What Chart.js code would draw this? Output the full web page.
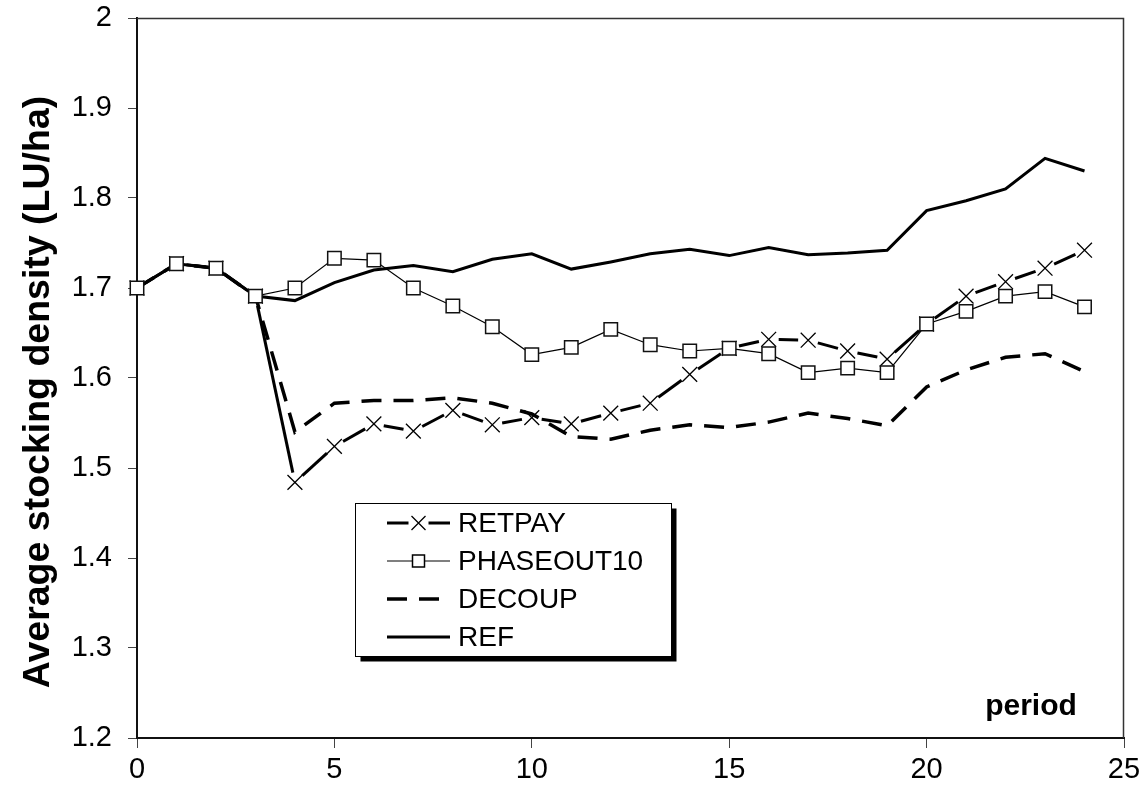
<!DOCTYPE html>
<html>
<head>
<meta charset="utf-8">
<title>Average stocking density</title>
<script src="https://cdn.jsdelivr.net/npm/chart.js@4/dist/chart.umd.min.js"></script>
<style>
  html, body { margin: 0; padding: 0; background: #fff; }
  #myChart { display: block; }
</style>
</head>
<body>
<canvas id="myChart" width="1146" height="796"></canvas>
<script>
const periods = [0, 1, 2, 3, 4, 5, 6, 7, 8, 9, 10, 11, 12, 13, 14, 15, 16, 17, 18, 19, 20, 21, 22, 23, 24];

const retpay = [1.700, 1.727, 1.722, 1.691, 1.484, 1.524, 1.549, 1.541, 1.564, 1.548, 1.556, 1.549, 1.561,
  1.572, 1.604, 1.633, 1.643, 1.642, 1.630, 1.621, 1.660, 1.691, 1.707, 1.722, 1.742];
const phaseout10 = [1.700, 1.727, 1.722, 1.691, 1.700, 1.733, 1.731, 1.700, 1.680, 1.657, 1.626, 1.634, 1.654,
  1.637, 1.630, 1.633, 1.627, 1.606, 1.611, 1.606, 1.660, 1.674, 1.691, 1.696, 1.679];
const decoup = [1.700, 1.727, 1.722, 1.691, 1.540, 1.572, 1.575, 1.575, 1.578, 1.572, 1.560, 1.535, 1.532,
  1.542, 1.548, 1.545, 1.551, 1.561, 1.555, 1.547, 1.590, 1.609, 1.623, 1.627, 1.607];
const ref = [1.700, 1.727, 1.722, 1.691, 1.686, 1.706, 1.720, 1.725, 1.718, 1.732, 1.738, 1.721, 1.729,
  1.738, 1.743, 1.736, 1.745, 1.737, 1.739, 1.742, 1.786, 1.797, 1.810, 1.844, 1.830];

const seriesNames = ["RETPAY", "PHASEOUT10", "DECOUP", "REF"];
const yTitle = "Average stocking density (LU/ha)";
const xTitle = "period";

const FONT = "'Liberation Sans', Arial, sans-serif";
const MARKER_GAP = 10;

// line that stops short of each marker: one dash per segment, centred between the points
function gappedDash(ctx) {
  const len = Math.hypot(ctx.p1.x - ctx.p0.x, ctx.p1.y - ctx.p0.y);
  return [Math.max(len - 2 * MARKER_GAP, 0), 2 * MARKER_GAP];
}
function gappedOffset(ctx) {
  const len = Math.hypot(ctx.p1.x - ctx.p0.x, ctx.p1.y - ctx.p0.y);
  return len - MARKER_GAP;
}

function toPoints(values) {
  return values.map((v, i) => ({ x: periods[i], y: v }));
}

// keep the plot box where the layout padding puts it
function fixScale(size) {
  return (scale) => {
    if (scale.isHorizontal()) scale.height = size;
    else scale.width = size;
    scale.paddingTop = 0;
    scale.paddingBottom = 0;
    scale.paddingLeft = 0;
    scale.paddingRight = 0;
  };
}

// lowest order is painted last, so the white squares sit on top
const datasets = [
  {
    label: seriesNames[0],
    data: toPoints(retpay),
    order: 1,
    clip: false,
    borderColor: "#000",
    borderWidth: 3,
    pointStyle: "crossRot",
    pointRadius: 10.5,
    pointBorderWidth: 1.3,
    pointBorderColor: "#000",
    segment: { borderDash: gappedDash, borderDashOffset: gappedOffset },
  },
  {
    label: seriesNames[1],
    data: toPoints(phaseout10),
    order: 0,
    clip: false,
    borderColor: "#000",
    borderWidth: 1.2,
    pointStyle: "rect",
    pointRadius: 9.5,
    pointBorderWidth: 1.5,
    pointBorderColor: "#111",
    pointBackgroundColor: "#fff",
  },
  {
    label: seriesNames[2],
    data: toPoints(decoup),
    order: 2,
    borderColor: "#000",
    borderWidth: 3.5,
    borderDash: [20, 12],
    pointRadius: 0,
  },
  {
    label: seriesNames[3],
    data: toPoints(ref),
    order: 3,
    borderColor: "#000",
    borderWidth: 3,
    pointRadius: 0,
  },
];

// frame on top and right of the plot, axis titles and the boxed legend
const extras = {
  id: "extras",
  afterDatasetsDraw(chart) {
    const { ctx, chartArea: a } = chart;
    ctx.save();
    ctx.strokeStyle = "#333";
    ctx.lineWidth = 1.5;
    ctx.beginPath();
    ctx.moveTo(a.left, a.top + 0.5);
    ctx.lineTo(a.right - 0.5, a.top + 0.5);
    ctx.lineTo(a.right - 0.5, a.bottom);
    ctx.stroke();

    ctx.fillStyle = "#000";
    ctx.font = `bold 30px ${FONT}`;
    ctx.textAlign = "center";
    ctx.textBaseline = "alphabetic";
    ctx.fillText(xTitle, 1031, 715);

    ctx.translate(39, 392);
    ctx.rotate(-Math.PI / 2);
    ctx.font = `bold 37.5px ${FONT}`;
    ctx.textBaseline = "middle";
    ctx.fillText(yTitle, 0, 0);
    ctx.restore();

    drawLegend(ctx);
  },
};

function drawLegend(ctx) {
  const box = { x: 355.5, y: 503.5, w: 316, h: 153 };
  ctx.save();
  ctx.fillStyle = "#000";
  ctx.fillRect(box.x + 5, box.y + 5, box.w, box.h);
  ctx.fillStyle = "#fff";
  ctx.fillRect(box.x, box.y, box.w, box.h);
  ctx.strokeStyle = "#000";
  ctx.lineWidth = 1;
  ctx.strokeRect(box.x, box.y, box.w, box.h);

  const x0 = 387;
  const x1 = 450;
  const xm = (x0 + x1) / 2;
  ctx.font = `28px ${FONT}`;
  ctx.textAlign = "left";
  ctx.textBaseline = "middle";

  datasets.forEach((ds, i) => {
    const y = 523 + i * 38;
    ctx.strokeStyle = "#000";
    ctx.setLineDash([]);
    if (ds.pointStyle === "crossRot") {
      ctx.lineWidth = 3;
      ctx.beginPath();
      ctx.moveTo(x0, y); ctx.lineTo(xm - 10, y);
      ctx.moveTo(xm + 10, y); ctx.lineTo(x1, y);
      ctx.stroke();
      ctx.lineWidth = 1.3;
      ctx.beginPath();
      ctx.moveTo(xm - 7, y - 7); ctx.lineTo(xm + 7, y + 7);
      ctx.moveTo(xm - 7, y + 7); ctx.lineTo(xm + 7, y - 7);
      ctx.stroke();
    } else if (ds.pointStyle === "rect") {
      ctx.lineWidth = 1.2;
      ctx.beginPath();
      ctx.moveTo(x0, y); ctx.lineTo(x1, y);
      ctx.stroke();
      ctx.fillStyle = "#fff";
      ctx.fillRect(xm - 6, y - 6, 12, 12);
      ctx.lineWidth = 1.5;
      ctx.strokeRect(xm - 6, y - 6, 12, 12);
    } else {
      ctx.lineWidth = ds.borderWidth;
      if (ds.borderDash) ctx.setLineDash([20, 12]);
      ctx.beginPath();
      ctx.moveTo(x0, y); ctx.lineTo(x1, y);
      ctx.stroke();
    }
    ctx.setLineDash([]);
    ctx.fillStyle = "#000";
    ctx.fillText(ds.label, 458, y + 1);
  });
  ctx.restore();
}

const canvas = document.getElementById("myChart");
const myChart = new Chart(canvas, {
  type: "line",
  data: { datasets },
  plugins: [extras],
  options: {
    responsive: false,
    animation: false,
    layout: { padding: { top: 18, right: 22, left: 0, bottom: 0 } },
    plugins: { legend: { display: false }, tooltip: { enabled: false } },
    scales: {
      x: {
        type: "linear",
        min: 0,
        max: 25,
        afterFit: fixScale(58),
        ticks: { stepSize: 5, color: "#000", padding: 5, font: { family: FONT, size: 29 } },
        grid: { drawOnChartArea: false, tickLength: 10, color: "#444", lineWidth: 1 },
        border: { display: true, color: "#111", width: 2 },
      },
      y: {
        min: 1.2,
        max: 2,
        afterFit: fixScale(137),
        ticks: {
          stepSize: 0.1,
          color: "#000",
          padding: 16,
          font: { family: FONT, size: 29 },
          callback: (v) => String(Math.round(v * 10) / 10),
        },
        grid: { drawOnChartArea: false, tickLength: 9, color: "#444", lineWidth: 1 },
        border: { display: true, color: "#111", width: 2 },
      },
    },
  },
});
</script>
</body>
</html>
